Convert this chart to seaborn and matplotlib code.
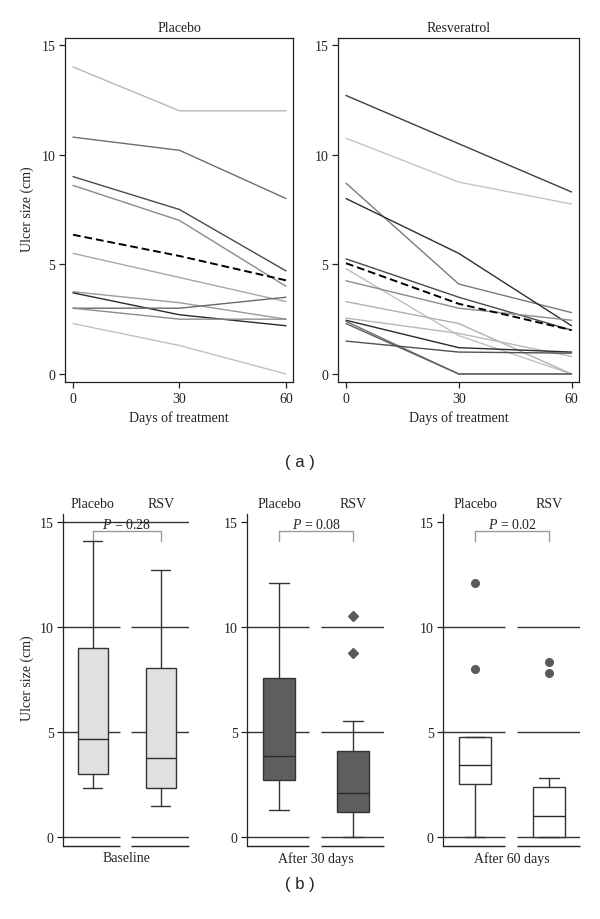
"""
Ulcer size over time: per-patient trajectories (a) and box plots per visit (b).
"""
import numpy as np
import pandas as pd
import matplotlib
matplotlib.use("Agg")
import matplotlib.pyplot as plt
import seaborn as sns

# ── Data ──────────────────────────────────────────────────────────────────────
DAYS = [0, 30, 60]

# ulcer size (cm) per patient at day 0 / 30 / 60
PLACEBO_SIZES = [
    [14.0, 12.0, 12.0],
    [10.8, 10.2, 8.0],
    [9.0, 7.5, 4.7],
    [8.6, 7.0, 4.0],
    [5.5, 4.4, 3.3],
    [3.75, 3.25, 2.5],
    [3.7, 2.7, 2.2],
    [3.0, 3.0, 3.5],
    [3.0, 2.5, 2.5],
    [2.3, 1.3, 0.0],
]
PLACEBO_GREYS = ["#b8b8b8", "#6e6e6e", "#4a4a4a", "#8a8a8a", "#a8a8a8",
                 "#9a9a9a", "#2a2a2a", "#6a6a6a", "#8c8c8c", "#c0c0c0"]
PLACEBO_MEAN = [6.35, 5.38, 4.27]

RSV_SIZES = [
    [12.7, 10.5, 8.3],
    [10.75, 8.75, 7.75],
    [8.7, 4.1, 2.8],
    [8.0, 5.5, 2.2],
    [5.25, 3.5, 2.0],
    [4.8, 1.75, 0.0],
    [4.25, 3.0, 2.45],
    [3.3, 2.3, 0.0],
    [2.55, 1.85, 0.8],
    [2.45, 1.2, 1.0],
    [2.4, 0.0, 0.0],
    [2.3, 0.0, 0.0],
    [1.5, 1.0, 0.95],
]
RSV_GREYS = ["#3e3e3e", "#c4c4c4", "#7a7a7a", "#2e2e2e", "#4a4a4a", "#c0c0c0",
             "#8a8a8a", "#b0b0b0", "#b8b8b8", "#2a2a2a", "#707070", "#606060",
             "#505050"]
RSV_MEAN = [5.05, 3.2, 2.0]

# box plot statistics read per visit: [placebo, RSV]
GROUPS = ["Placebo", "RSV"]
VISITS = ["Baseline", "After 30 days", "After 60 days"]
P_VALUES = ["0.28", "0.08", "0.02"]
BOX_WHISK_LO = [[2.33, 1.5], [1.3, 0.0], [0.0, 0.0]]
BOX_Q1 = [[3.0, 2.33], [2.74, 1.19], [2.53, 0.0]]
BOX_MED = [[4.66, 3.78], [3.85, 2.09], [3.44, 1.03]]
BOX_Q3 = [[8.98, 8.06], [7.56, 4.12], [4.75, 2.38]]
BOX_WHISK_HI = [[14.07, 12.72], [12.09, 5.51], [4.75, 2.8]]
BOX_OUTLIERS = [[[], []], [[], [8.74, 10.53]], [[8.01, 12.07], [7.81, 8.35]]]
BOX_FILLS = ["#e0e0e0", "#5e5e5e", "#ffffff"]
OUTLIER_MARKERS = ["o", "D", "o"]

# ── Style ─────────────────────────────────────────────────────────────────────
sns.set_style("ticks")
plt.rcParams["font.family"] = ["Liberation Serif", "DejaVu Serif"]
plt.rcParams["mathtext.fontset"] = "custom"
plt.rcParams["mathtext.rm"] = "Liberation Serif"
plt.rcParams["mathtext.it"] = "Liberation Serif:italic"
INK = "#222222"
W, H = 600, 920


def rect(x0, y0, x1, y1):
    """pixel box (top-left origin) -> figure fraction rect"""
    return [x0 / W, 1 - y1 / H, (x1 - x0) / W, (y1 - y0) / H]


fig = plt.figure(figsize=(6, 9.2), dpi=100)

# ── (a) trajectories ──────────────────────────────────────────────────────────
top_axes = [
    (fig.add_axes(rect(65, 39, 293, 383)), "Placebo", PLACEBO_SIZES, PLACEBO_GREYS,
     PLACEBO_MEAN, (-2.25, 61.97)),
    (fig.add_axes(rect(338, 39, 579, 383)), "Resveratrol", RSV_SIZES, RSV_GREYS,
     RSV_MEAN, (-2.13, 61.99)),
]
for ax, title, sizes, greys, mean, xlim in top_axes:
    rows = [{"patient": i, "day": d, "size": v}
            for i, traj in enumerate(sizes) for d, v in zip(DAYS, traj)]
    df = pd.DataFrame(rows)
    sns.lineplot(data=df, x="day", y="size", hue="patient",
                 palette=dict(enumerate(greys)), estimator=None,
                 lw=1.0, legend=False, ax=ax)
    sns.lineplot(x=DAYS, y=mean, color="black", lw=1.4, ax=ax)
    ax.lines[-1].set_dashes((4, 2))
    ax.set_xlim(*xlim)
    ax.set_ylim(-0.365, 15.32)
    ax.set_xticks(DAYS)
    ax.set_yticks([0, 5, 10, 15])
    ax.tick_params(length=4, width=0.9, color=INK, labelsize=10, pad=3,
                   labelcolor=INK)
    for s in ax.spines.values():
        s.set_color(INK)
        s.set_linewidth(0.9)
    ax.set_xlabel("Days of treatment", fontsize=10, color=INK, labelpad=4)
    ax.set_ylabel("")
    ax.set_title(title, fontsize=10, color=INK, pad=5)

fig.text(27 / W, 1 - 209 / H, "Ulcer size (cm)", rotation=90, ha="center",
         va="center", fontsize=10, color=INK)
fig.text(300 / W, 1 - 463 / H, "( a )", ha="center", va="center", fontsize=12,
         family="Liberation Sans", color=INK)

# ── (b) box plots ─────────────────────────────────────────────────────────────
bottom_rects = [(63.3, 515, 189.3, 847), (247.3, 515, 384, 847),
                (443.3, 515, 580, 847)]
YLO, YHI = -0.41, 15.37
SEGS = [(-0.43, 0.40), (0.565, 1.42)]

for k, r in enumerate(bottom_rects):
    ax = fig.add_axes(rect(*r))
    stats = []
    for g in range(2):
        stats.append({
            "whislo": BOX_WHISK_LO[k][g], "q1": BOX_Q1[k][g],
            "med": BOX_MED[k][g], "q3": BOX_Q3[k][g],
            "whishi": BOX_WHISK_HI[k][g], "fliers": BOX_OUTLIERS[k][g],
        })
    line_kw = dict(color="#333333", linewidth=1.0)
    ax.bxp(stats, positions=[0, 1], widths=0.44, capwidths=0.28,
           patch_artist=True, manage_ticks=False,
           boxprops=dict(facecolor=BOX_FILLS[k], edgecolor="#333333", linewidth=1.0),
           medianprops=dict(color="#2a2a2a", linewidth=1.0),
           whiskerprops=line_kw, capprops=line_kw,
           flierprops=dict(marker=OUTLIER_MARKERS[k], markersize=5.5,
                           markerfacecolor="#5a5a5a", markeredgecolor="#5a5a5a"),
           zorder=3)

    # broken gridlines and broken baseline, one piece per group
    for a, b in SEGS:
        ax.hlines([0, 5, 10], a, b, color="#333333", lw=1.0, zorder=1)
        ax.hlines(YLO, a, b, color=INK, lw=1.0, clip_on=False, zorder=1)
    if k == 0:
        ax.axhline(15, color="#333333", lw=1.0, zorder=1)

    # significance bracket
    ax.plot([0, 0, 1, 1], [14.1, 14.54, 14.54, 14.1], color="#9a9a9a",
            lw=1.0, clip_on=False, zorder=2)
    ax.text(0.5, 14.9, f"$P$ = {P_VALUES[k]}", ha="center", va="center",
            fontsize=10, color=INK, zorder=4)

    ax.set_xlim(-0.43, 1.42)
    ax.set_ylim(YLO, YHI)
    ax.set_yticks([0, 5, 10, 15])
    ax.xaxis.tick_top()
    ax.set_xticks([0, 1], GROUPS)
    ax.tick_params(axis="x", length=0, pad=3, labelsize=10, labelcolor=INK)
    ax.tick_params(axis="y", length=4, width=0.9, color=INK, labelsize=10,
                   pad=3, labelcolor=INK)
    for side in ["top", "right", "bottom"]:
        ax.spines[side].set_visible(False)
    ax.spines["left"].set_color(INK)
    ax.spines["left"].set_linewidth(0.9)
    ax.text(0.5, -0.036, VISITS[k], transform=ax.transAxes, ha="center",
            va="center", fontsize=10, color=INK)

fig.text(27 / W, 1 - 678 / H, "Ulcer size (cm)", rotation=90, ha="center",
         va="center", fontsize=10, color=INK)
fig.text(300 / W, 1 - 885 / H, "( b )", ha="center", va="center", fontsize=12,
         family="Liberation Sans", color=INK)

fig.savefig("out.png", dpi=100)
plt.close(fig)
